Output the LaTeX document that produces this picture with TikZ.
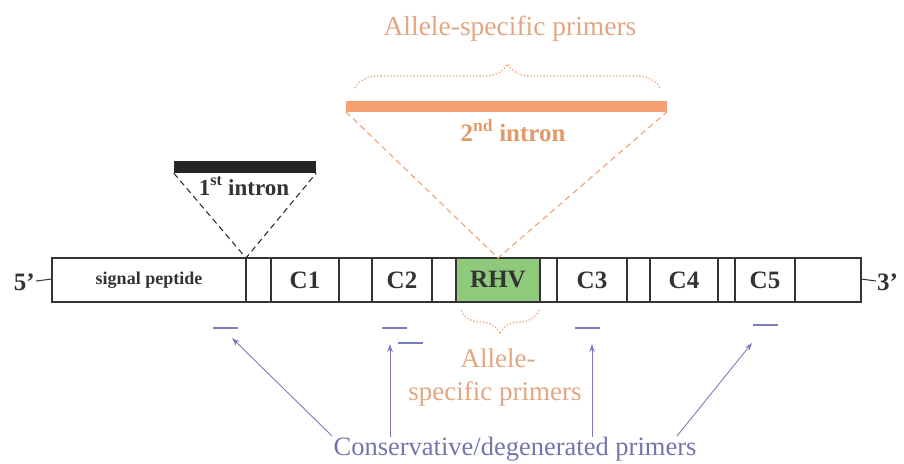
\documentclass[tikz,border=0pt]{standalone}
\usepackage{fontspec}
\setmainfont{Liberation Serif}
\usetikzlibrary{decorations.pathreplacing,arrows.meta}
\definecolor{barline}{HTML}{333333}
\definecolor{rhvgreen}{HTML}{8FC97C}
\definecolor{orangebar}{HTML}{F4A072}
\definecolor{orangetext}{HTML}{E3996A}
\definecolor{lighttext}{HTML}{E2A682}
\definecolor{bluep}{HTML}{7B7BC0}
\definecolor{bluetext}{HTML}{7474AC}
\begin{document}
\begin{tikzpicture}[x=1pt,y=-1pt,
  seg/.style={draw=barline,line width=1.4pt,minimum height=44pt,inner sep=0pt,outer sep=0pt,font=\bfseries\fontsize{25}{25}\selectfont,text=barline},
  dashln/.style={line width=1.1pt,dash pattern=on 6pt off 4pt},
  prim/.style={bluep,line width=2pt},
  parr/.style={bluep,line width=0.9pt,-{Stealth[length=8pt,width=5.5pt]}},
  dotbrace/.style={orangebar,dotted,line width=1.3pt,decorate,decoration={brace,amplitude=#1}},
  bigtxt/.style={font=\fontsize{26.5}{26.5}\selectfont,anchor=base,inner sep=0pt}
]
\useasboundingbox (0,0) rectangle (904,463);
% main gene bar
\node[seg,minimum width=194pt,font=\bfseries\fontsize{18}{18}\selectfont] (sp) at (149,280) {signal peptide};
\node[seg,minimum width=25pt] (s1) at (258.5,280) {};
\node[seg,minimum width=68pt] (c1) at (305,280) {C1};
\node[seg,minimum width=33pt] (s2) at (355.5,280) {};
\node[seg,minimum width=60pt] (c2) at (402,280) {C2};
\node[seg,minimum width=24pt] (s3) at (444,280) {};
\node[seg,minimum width=84pt,fill=rhvgreen] (rhv) at (498,280) {RHV};
\node[seg,minimum width=17pt] (s4) at (548.5,280) {};
\node[seg,minimum width=70pt] (c3) at (592,280) {C3};
\node[seg,minimum width=23pt] (s5) at (638.5,280) {};
\node[seg,minimum width=68pt] (c4) at (684,280) {C4};
\node[seg,minimum width=17pt] (s6) at (726.5,280) {};
\node[seg,minimum width=60pt] (c5) at (765,280) {C5};
\node[seg,minimum width=66pt] (s7) at (828,280) {};
% ends
\node[font=\bfseries\fontsize{25}{25}\selectfont,text=barline,anchor=east,inner sep=1pt] (five) at (36,282) {5’};
\node[font=\bfseries\fontsize{25}{25}\selectfont,text=barline,anchor=west,inner sep=1pt] (three) at (876,282) {3’};
\draw[barline,line width=1pt] ([yshift=1pt]five.east) -- ([yshift=1pt]sp.west);
\draw[barline,line width=1pt] ([yshift=1pt]s7.east) -- ([yshift=1pt]three.west);
% 1st intron
\node[fill=black!85,minimum width=142pt,minimum height=12pt,inner sep=0pt] (in1) at (245,167) {};
\draw[dashln,barline] (in1.south west) -- (sp.north east) -- (in1.south east);
\node[font=\bfseries\fontsize{23}{23}\selectfont,text=barline,anchor=base,inner sep=0pt] (in1t) at (244,195) {1\textsuperscript{st} intron};
% 2nd intron
\node[fill=orangebar,minimum width=321pt,minimum height=11pt,inner sep=0pt] (in2) at (506.5,106) {};
\draw[dashln,orangebar] (in2.south west) -- (rhv.north) -- (in2.south east);
\node[font=\bfseries\fontsize{25}{25}\selectfont,text=orangetext,anchor=base,inner sep=0pt] (in2t) at (513,141) {2\textsuperscript{nd} intron};
% upper allele-specific primers
\draw[dotbrace=24pt] (355,88) -- (660,88);
\node[bigtxt,font=\fontsize{27.5}{27.5}\selectfont,text=lighttext] (asp1) at (510,35) {Allele-specific primers};
% lower allele-specific primers
\draw[dotbrace=24pt] (539,310) -- (461,310);
\node[bigtxt,font=\fontsize{27}{27}\selectfont,text=lighttext] (asp2a) at (498,367) {Allele-};
\node[bigtxt,font=\fontsize{27}{27}\selectfont,text=lighttext] (asp2b) at (495,400) {specific primers};
% primers
\coordinate (p1) at (225.5,328);
\coordinate (p2) at (394.5,328);
\coordinate (p3) at (410.5,343);
\coordinate (p4) at (587.5,328);
\coordinate (p5) at (765.5,325);
\foreach \p in {p1,p2,p3,p4,p5} \draw[prim] ([xshift=-12.5pt]\p) -- ([xshift=12.5pt]\p);
% conservative primers
\node[bigtxt,text=bluetext] (cons) at (515,455) {Conservative/degenerated primers};
\coordinate (a1) at (332,436);
\coordinate (a2) at (390,437);
\coordinate (a3) at (592,437);
\coordinate (a4) at (677,436);
\draw[parr] (a1) -- (232,338);
\draw[parr] (a2) -- (390,344);
\draw[parr] (a3) -- (592,344);
\draw[parr] (a4) -- (752,343);
\end{tikzpicture}
\end{document}
